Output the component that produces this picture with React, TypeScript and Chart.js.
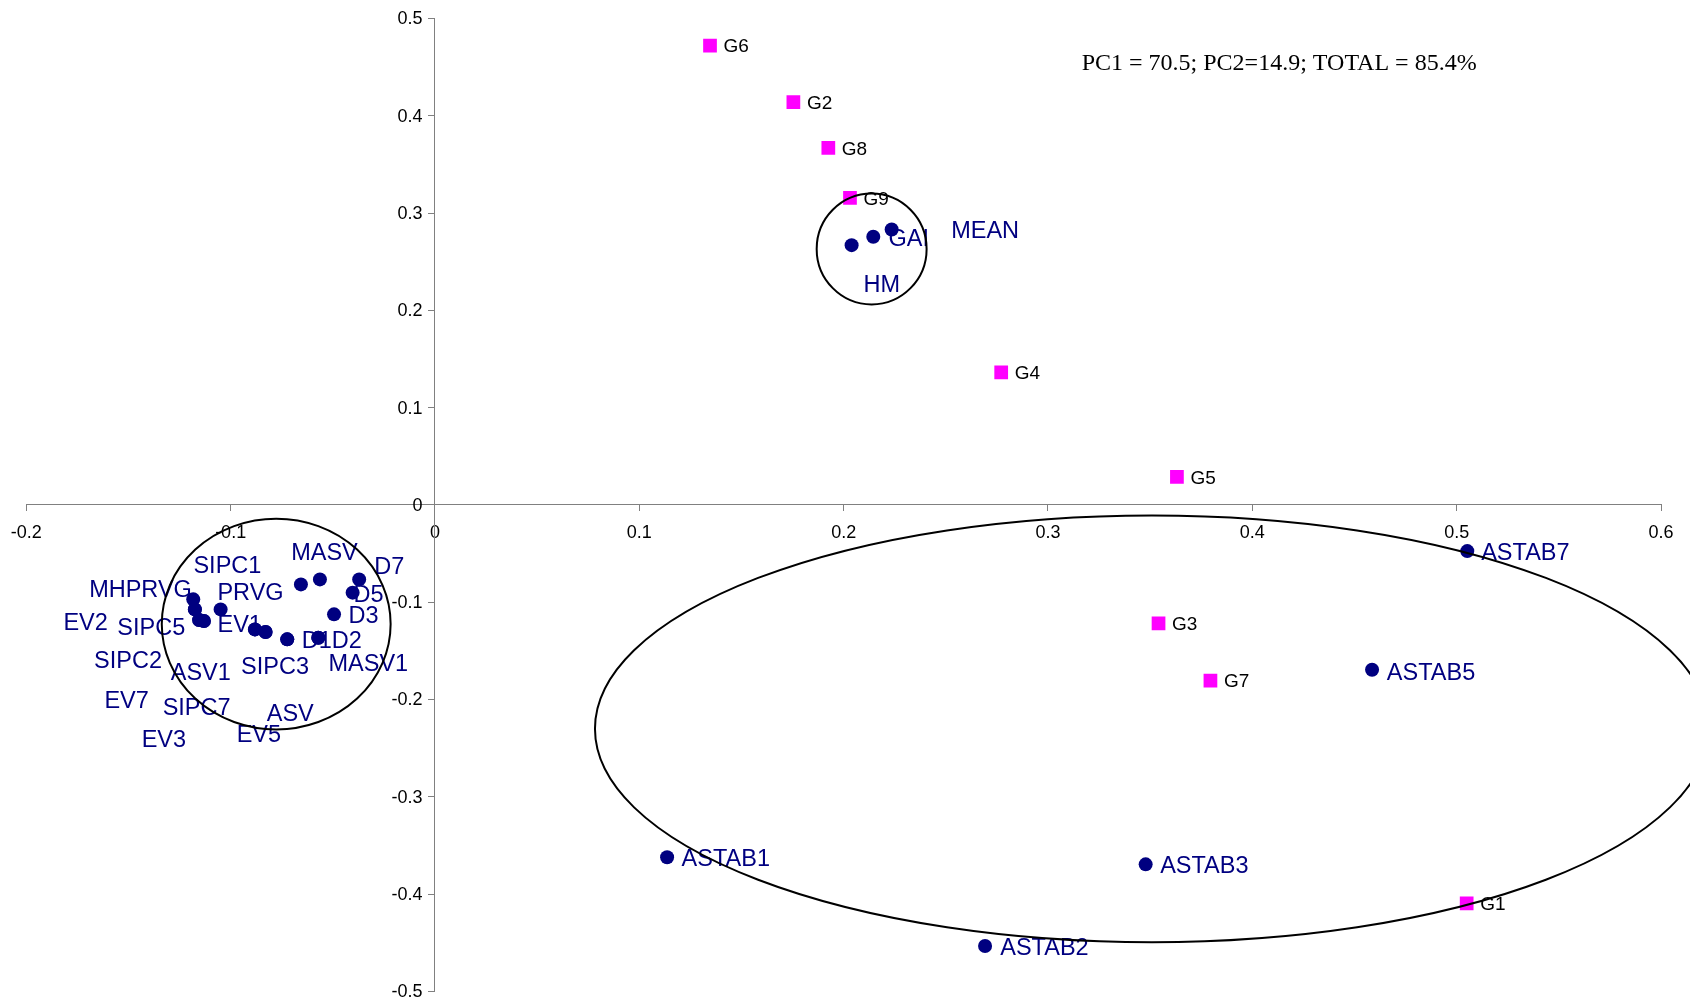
import React, { useEffect, useRef } from 'react';
import { Chart, registerables } from 'chart.js';

Chart.register(...registerables);

// Navy points (variables / traits)
const navyNames = ['MHPRVG', 'EV2', 'EV7', 'SIPC5', 'EV3', 'SIPC2', 'SIPC7', 'PRVG', 'EV1', 'ASV1', 'SIPC3', 'EV5', 'D1', 'ASV', 'SIPC1', 'MASV', 'D2', 'MASV1', 'D3', 'D5', 'D7', 'HM', 'GAI', 'MEAN', 'ASTAB1', 'ASTAB2', 'ASTAB3', 'ASTAB5', 'ASTAB7'];
const navyPC1 = [-0.1183, -0.1175, -0.1175, -0.1154, -0.1154, -0.1131, -0.1131, -0.1049, -0.0881, -0.0881, -0.0829, -0.0829, -0.0723, -0.0723, -0.0656, -0.0563, -0.0571, -0.0571, -0.0494, -0.0403, -0.0371, 0.2039, 0.2145, 0.2235, 0.1136, 0.2692, 0.3478, 0.4586, 0.5052];
const navyPC2 = [-0.0971, -0.1074, -0.1074, -0.1184, -0.1184, -0.1194, -0.1194, -0.1074, -0.128, -0.128, -0.1307, -0.1307, -0.1382, -0.1382, -0.0817, -0.0766, -0.1365, -0.1365, -0.1125, -0.0902, -0.0766, 0.267, 0.2756, 0.2831, -0.3622, -0.4534, -0.3695, -0.1695, -0.0475];
// label placement (pixel offsets from marker), style only
const navyLabelOffsets = [[-102.6, -11.1], [-130, 11.3], [-89, 90], [-80.3, 6], [-56, 118.3], [-108.3, 38.3], [-39.7, 85], [-1.7, -18.3], [-36, -6.7], [-82.7, 41.7], [-23, 32.6], [-27.4, 100.6], [16, 0], [-19, 72.3], [-106, -20.7], [-27.3, -28.3], [15, 1.7], [11.7, 24.4], [16, -0.3], [2.3, 0], [16.7, -14.7], [13.3, 37.6], [16.7, 0], [61, -0.4], [16, 0], [16.7, 0], [16, 0], [16.3, 1.3], [15.4, 0]];

// Magenta points (genotypes)
const gNames = ['G1', 'G2', 'G3', 'G4', 'G5', 'G6', 'G7', 'G8', 'G9'];
const gPC1 = [0.5049, 0.1754, 0.3541, 0.2771, 0.3631, 0.1346, 0.3795, 0.1925, 0.2031];
const gPC2 = [-0.4096, 0.414, -0.1218, 0.1363, 0.0288, 0.4722, -0.1806, 0.3671, 0.3157];

// Axis ranges / ticks
const xMin = -0.2, xMax = 0.6, xStep = 0.1;
const yMin = -0.5, yMax = 0.5, yStep = 0.1;

// Group ellipses (data units): cx, cy, rx, ry
const ellipseCX = [-0.0777, 0.2137, 0.3509];
const ellipseCY = [-0.1225, 0.2631, -0.2302];
const ellipseRX = [0.056, 0.0269, 0.2726];
const ellipseRY = [0.1083, 0.057, 0.2194];

const annotationText = 'PC1 = 70.5; PC2=14.9; TOTAL = 85.4%';
const annotationAt = [0.3165, 0.457];

const SANS = '"Liberation Sans", Arial, sans-serif';
const SERIF = '"Liberation Serif", "Times New Roman", serif';

export default function App() {
  const ref = useRef<HTMLCanvasElement>(null);

  useEffect(() => {
    const canvas = ref.current;
    if (!canvas) return;

    const fmt = (v: any) => String(Math.round(Number(v) * 10) / 10);

    const labelSets = [
      { names: navyNames, offsets: navyLabelOffsets, font: `23.5px ${SANS}`, color: '#000080', dy: 2.5 },
      { names: gNames, offsets: gNames.map(() => [15, 0]), font: `19px ${SANS}`, color: '#000000', dy: 1.5 },
    ];

    const labelPlugin = {
      id: 'pointLabels',
      beforeDatasetsDraw(chart: any) {
        const ctx = chart.ctx;
        ctx.save();
        ctx.textBaseline = 'middle';
        ctx.textAlign = 'left';
        labelSets.forEach((set, di) => {
          const meta = chart.getDatasetMeta(di);
          ctx.font = set.font;
          ctx.fillStyle = set.color;
          meta.data.forEach((el: any, i: number) => {
            const o = set.offsets[i];
            ctx.fillText(set.names[i], el.x + o[0] - 1.5, el.y + o[1] + set.dy);
          });
        });
        ctx.restore();
      },
    };

    const yLabelPlugin = {
      id: 'yTickLabels',
      afterDatasetsDraw(chart: any) {
        const ctx = chart.ctx;
        const xs = chart.scales.x;
        const ys = chart.scales.y;
        const xPix = xs.getPixelForValue(0) - 12.5;
        ctx.save();
        ctx.font = `18px ${SANS}`;
        ctx.fillStyle = '#000000';
        ctx.textAlign = 'right';
        ctx.textBaseline = 'middle';
        ys.ticks.forEach((t: any) => {
          ctx.fillText(fmt(t.value), xPix, ys.getPixelForValue(t.value) + 1);
        });
        ctx.restore();
      },
    };

    const shapePlugin = {
      id: 'shapes',
      afterDraw(chart: any) {
        const ctx = chart.ctx;
        const xs = chart.scales.x;
        const ys = chart.scales.y;
        ctx.save();
        ctx.strokeStyle = '#000000';
        ctx.lineWidth = 2;
        for (let i = 0; i < ellipseCX.length; i++) {
          const px = xs.getPixelForValue(ellipseCX[i]);
          const py = ys.getPixelForValue(ellipseCY[i]);
          const rx = Math.abs(xs.getPixelForValue(ellipseCX[i] + ellipseRX[i]) - px);
          const ry = Math.abs(ys.getPixelForValue(ellipseCY[i] + ellipseRY[i]) - py);
          ctx.beginPath();
          ctx.ellipse(px, py, rx, ry, 0, 0, Math.PI * 2);
          ctx.stroke();
        }
        ctx.font = `24px ${SERIF}`;
        ctx.fillStyle = '#000000';
        ctx.textBaseline = 'middle';
        ctx.textAlign = 'left';
        ctx.fillText(annotationText, xs.getPixelForValue(annotationAt[0]), ys.getPixelForValue(annotationAt[1]) + 3);
        ctx.restore();
      },
    };

    const tickFont = { family: SANS, size: 18 };

    const chart = new Chart(canvas, {
      type: 'scatter',
      data: {
        datasets: [
          {
            label: 'Traits',
            data: navyPC1.map((x, i) => ({ x, y: navyPC2[i] })),
            pointStyle: 'circle',
            pointRadius: 7,
            backgroundColor: '#000080',
            borderColor: '#000080',
            borderWidth: 0,
          },
          {
            label: 'Genotypes',
            data: gPC1.map((x, i) => ({ x, y: gPC2[i] })),
            pointStyle: 'rect',
            pointRadius: 9.7,
            backgroundColor: '#FF00FF',
            borderColor: '#FF00FF',
            borderWidth: 0,
          },
        ],
      },
      options: {
        animation: false,
        responsive: false,
        events: [],
        layout: { padding: { left: 26.3, right: 29, top: 18.5, bottom: 9 } },
        plugins: {
          legend: { display: false },
          tooltip: { enabled: false },
          title: { display: false },
        },
        scales: {
          x: {
            type: 'linear',
            min: xMin,
            max: xMax,
            position: { y: 0 } as any,
            afterFit: (s: any) => { s.height = 0; s.paddingLeft = 0; s.paddingRight = 0; },
            grid: { drawOnChartArea: false, drawTicks: true, tickLength: 6, color: '#808080', lineWidth: 1 },
            border: { display: true, color: '#808080', width: 1 },
            ticks: { stepSize: xStep, autoSkip: false, maxRotation: 0, padding: 11, color: '#000000', font: tickFont, callback: fmt },
          },
          y: {
            type: 'linear',
            min: yMin,
            max: yMax,
            position: { x: 0 } as any,
            afterFit: (s: any) => { s.width = 0; s.paddingTop = 0; s.paddingBottom = 0; },
            grid: { drawOnChartArea: false, drawTicks: true, tickLength: 6, color: '#808080', lineWidth: 1 },
            border: { display: true, color: '#808080', width: 1 },
            ticks: { stepSize: yStep, autoSkip: false, display: false, font: tickFont, callback: fmt },
          },
        },
      },
      plugins: [labelPlugin, yLabelPlugin, shapePlugin],
    } as any);

    return () => chart.destroy();
  }, []);

  return (
    <canvas
      ref={ref}
      width={1690}
      height={1001}
      style={{ position: 'fixed', left: 0, top: 0, display: 'block', background: '#ffffff' }}
    />
  );
}
